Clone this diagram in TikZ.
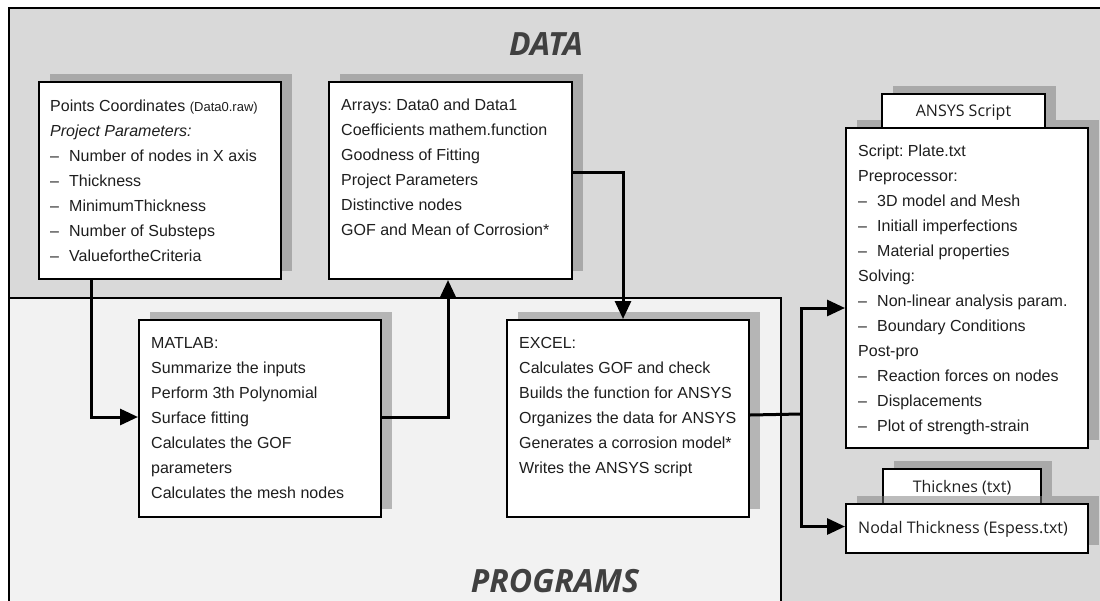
\documentclass[tikz,border=0pt]{standalone}
\usepackage{fontspec}
\setmainfont{Liberation Sans}
\newfontfamily\osans{Open Sans}
\usetikzlibrary{arrows.meta,shadows}
\definecolor{databg}{HTML}{D9D9D9}
\definecolor{progbg}{HTML}{F2F2F2}
\definecolor{shc}{HTML}{7A7A7A}
\definecolor{ttl}{HTML}{404040}
\definecolor{txtc}{HTML}{1E1E1E}
\newcommand\dsh{\makebox[19pt][l]{–}}
\newcommand\fst{\rule{0pt}{12pt}}
\frenchspacing
\begin{document}
\begin{tikzpicture}[x=1pt,y=-1pt,
  box/.style={draw=black, line width=2pt, fill=white, inner sep=0pt, anchor=north west,
    drop shadow={shadow xshift=11pt, shadow yshift=8pt, fill=shc, opacity=.5}},
  txt/.style={anchor=north west, inner sep=0pt, align=left, text=txtc, font=\fontsize{16}{25}\selectfont},
  tabtxt/.style={font=\osans\fontsize{16}{19}\selectfont, text=txtc, text depth=0pt},
  title/.style={anchor=base, inner sep=0pt, text=ttl, font=\osans\bfseries\itshape\fontsize{32}{36}\selectfont},
  conn/.style={draw=black, line width=3pt, -{Triangle[length=18pt,width=16pt]}},
  link/.style={draw=black, line width=3pt},
  region/.style={draw=black, line width=2.5pt}]
\useasboundingbox (0,0) rectangle (1100,600);
\clip (0,0) rectangle (1100,600);
% regions
\path[region, fill=databg] (9,8) rectangle (1120,620);
\path[region, fill=progbg] (9,298) rectangle (781,620);
\node[title] (tdata) at (546,55) {DATA};
\node[title] (tprog) at (555,592) {PROGRAMS};
% boxes
\node[box, minimum width=242pt, minimum height=197pt] (pts) at (38,81) {};
\node[box, minimum width=243pt, minimum height=197pt] (arr) at (328,81) {};
\node[box, minimum width=242pt, minimum height=197pt] (mat) at (138,319) {};
\node[box, minimum width=242pt, minimum height=197pt] (exc) at (506,319) {};
\node[box, minimum width=242pt, minimum height=320pt] (ans) at (845,127) {};
\node[box, tabtxt, minimum width=163pt, minimum height=34pt] (atab) at (881,93) {ANSYS Script};
\node[box, tabtxt, minimum width=158pt, minimum height=35pt] (ttab) at (882,468) {Thicknes (txt)};
\node[box, minimum width=242pt, minimum height=49pt] (nod) at (845,503) {};
% texts
\node[txt] (ptst) at (50,99) {\fst Points Coordinates {\fontsize{13}{25}\selectfont(Data0.raw)}\\
  \textit{Project Parameters:}\\
  \dsh Number of nodes in X axis\\
  \dsh Thickness\\
  \dsh MinimumThickness\\
  \dsh Number of Substeps\\
  \dsh ValuefortheCriteria};
\node[txt] (arrt) at (341,98.5) {\fst Arrays: Data0 and Data1\\
  Coefficients mathem.function\\
  Goodness of Fitting\\
  Project Parameters\\
  Distinctive nodes\\
  GOF and Mean of Corrosion*};
\node[txt] (matt) at (151,336) {\fst MATLAB:\\
  Summarize the inputs\\
  Perform 3th Polynomial\\
  Surface fitting\\
  Calculates the GOF\\
  parameters\\
  Calculates the mesh nodes};
\node[txt] (exct) at (519,336) {\fst EXCEL:\\
  Calculates GOF and check\\
  Builds the function for ANSYS\\
  Organizes the data for ANSYS\\
  Generates a corrosion model*\\
  Writes the ANSYS script};
\node[txt] (anst) at (858,144) {\fst Script: Plate.txt\\
  Preprocessor:\\
  \dsh 3D model and Mesh\\
  \dsh Initiall imperfections\\
  \dsh Material properties\\
  Solving:\\
  \dsh Non-linear analysis param.\\
  \dsh Boundary Conditions\\
  Post-pro\\
  \dsh Reaction forces on nodes\\
  \dsh Displacements\\
  \dsh Plot of strength-strain};
\node[anchor=base west, inner sep=0pt, font=\osans\fontsize{16}{19}\selectfont, text=txtc] (nodt) at (858,533) {Nodal Thickness (Espess.txt)};
% connectors
\draw[conn] ([xshift=53pt]pts.south west) |- ([yshift=1.5pt]mat.west);
\draw[conn] ([yshift=1.5pt]mat.east) -| ([xshift=120pt]arr.south west);
\draw[conn] ([yshift=8.5pt]arr.east) -| ([xshift=-5pt]exc.north);
\coordinate (jn) at (801,414);
\draw[link] ([yshift=3.5pt]exc.east) -- (jn);
\draw[conn] (jn) |- ([yshift=-20pt]ans.west);
\draw[conn] (jn) |- ([yshift=2pt]nod.west);
\end{tikzpicture}
\end{document}
